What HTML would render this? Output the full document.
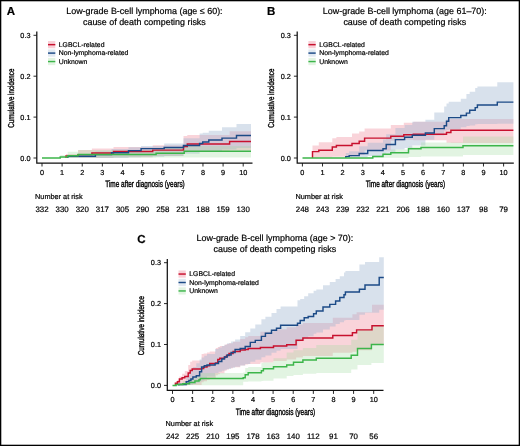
<!DOCTYPE html>
<html><head><meta charset="utf-8"><style>
html,body{margin:0;padding:0;background:#fff;}
body{width:520px;height:446px;overflow:hidden;position:relative;}
svg{position:absolute;left:0;top:0;will-change:transform;}
text{font-family:"Liberation Sans", sans-serif;fill:#000;stroke:#000;stroke-width:0.2px;text-rendering:geometricPrecision;}
</style></head><body>
<svg width="520" height="446" viewBox="0 0 520 446">
<rect x="0" y="0" width="520" height="446" fill="#fff"/>
<g transform="translate(0,0)">
<text x="6.7" y="15.25" font-size="11.5" font-weight="bold">A</text>
<text x="144.4" y="13.9" font-size="8.95" text-anchor="middle">Low-grade B-cell lymphoma (age ≤ 60):</text>
<text x="144.4" y="24.5" font-size="8.92" text-anchor="middle">cause of death competing risks</text>
<path d="M42.00,158.00 L66.00,158.00 L66.00,154.00 L78.10,154.00 L78.10,150.00 L91.90,150.00 L91.90,148.43 L113.50,148.43 L113.50,146.90 L152.70,146.90 L152.70,145.20 L183.50,145.20 L183.50,136.12 L187.30,136.12 L187.30,135.00 L229.60,135.00 L229.60,131.20 L251.00,131.20 L251.00,150.41 L229.60,150.41 L229.60,151.99 L187.30,151.99 L187.30,152.40 L183.50,152.40 L183.50,155.92 L152.70,155.92 L152.70,157.28 L113.50,157.28 L113.50,158.00 L91.90,158.00 L91.90,158.00 L78.10,158.00 L78.10,158.00 L66.00,158.00 L66.00,158.00 L42.00,158.00Z" fill="#e8637a" fill-opacity="0.28"/>
<path d="M42.00,158.00 L67.70,158.00 L67.70,155.00 L95.40,155.00 L95.40,151.44 L111.50,151.44 L111.50,149.00 L128.50,149.00 L128.50,147.27 L141.10,147.27 L141.10,145.99 L164.20,145.99 L164.20,143.44 L183.50,143.44 L183.50,138.14 L199.60,138.14 L199.60,133.61 L202.70,133.61 L202.70,132.66 L208.80,132.66 L208.80,130.77 L222.00,130.77 L222.00,127.30 L236.50,127.30 L236.50,123.90 L251.00,123.90 L251.00,147.98 L236.50,147.98 L236.50,149.56 L222.00,149.56 L222.00,151.02 L208.80,151.02 L208.80,151.70 L202.70,151.70 L202.70,152.04 L199.60,152.04 L199.60,153.83 L183.50,153.83 L183.50,155.98 L164.20,155.98 L164.20,156.86 L141.10,156.86 L141.10,157.34 L128.50,157.34 L128.50,157.98 L111.50,157.98 L111.50,158.00 L95.40,158.00 L95.40,158.00 L67.70,158.00 L67.70,158.00 L42.00,158.00Z" fill="#9db5cf" fill-opacity="0.4"/>
<path d="M42.00,158.00 L60.20,158.00 L60.20,155.00 L67.70,155.00 L67.70,151.70 L78.10,151.70 L78.10,150.00 L156.10,150.00 L156.10,147.99 L184.20,147.99 L184.20,146.00 L251.00,146.00 L251.00,157.50 L184.20,157.50 L184.20,157.60 L156.10,157.60 L156.10,157.87 L78.10,157.87 L78.10,157.91 L67.70,157.91 L67.70,157.94 L60.20,157.94 L60.20,158.00 L42.00,158.00Z" fill="#9fd9a0" fill-opacity="0.3"/>
<path d="M66.00,158.00H66.00V156.00H78.10V154.60H91.90V152.90H113.50V151.40H152.70V150.10H183.50V146.50H187.30V143.90H229.60V141.50H251.00" fill="none" stroke="#c8102e" stroke-width="1.45"/>
<path d="M67.70,158.00H67.70V156.30H95.40V154.60H111.50V152.80H128.50V150.60H141.10V148.60H164.20V147.50H183.50V145.50H199.60V143.50H202.70V141.90H208.80V139.90H222.00V138.10H236.50V135.50H251.00" fill="none" stroke="#1b4a86" stroke-width="1.45"/>
<path d="M42.00,158.00H60.20V156.90H67.70V155.80H78.10V154.40H156.10V153.30H184.20V151.20H251.00" fill="none" stroke="#3cb54a" stroke-width="1.45"/>
<path d="M36.8,31.5V163H252.5" fill="none" stroke="#111" stroke-width="1.25"/>
<path d="M33.5,158.00H36.8" stroke="#111" stroke-width="0.9"/>
<text x="30.5" y="160.50" font-size="7.3" text-anchor="end">0.0</text>
<path d="M33.5,117.10H36.8" stroke="#111" stroke-width="0.9"/>
<text x="30.5" y="119.60" font-size="7.3" text-anchor="end">0.1</text>
<path d="M33.5,76.20H36.8" stroke="#111" stroke-width="0.9"/>
<text x="30.5" y="78.70" font-size="7.3" text-anchor="end">0.2</text>
<path d="M33.5,35.30H36.8" stroke="#111" stroke-width="0.9"/>
<text x="30.5" y="37.80" font-size="7.3" text-anchor="end">0.3</text>
<path d="M42.00,163V166.5" stroke="#111" stroke-width="0.9"/>
<text x="42.00" y="174.7" font-size="7.3" text-anchor="middle">0</text>
<text x="42.00" y="212" font-size="7.9" text-anchor="middle">332</text>
<path d="M62.12,163V166.5" stroke="#111" stroke-width="0.9"/>
<text x="62.12" y="174.7" font-size="7.3" text-anchor="middle">1</text>
<text x="62.12" y="212" font-size="7.9" text-anchor="middle">330</text>
<path d="M82.24,163V166.5" stroke="#111" stroke-width="0.9"/>
<text x="82.24" y="174.7" font-size="7.3" text-anchor="middle">2</text>
<text x="82.24" y="212" font-size="7.9" text-anchor="middle">320</text>
<path d="M102.36,163V166.5" stroke="#111" stroke-width="0.9"/>
<text x="102.36" y="174.7" font-size="7.3" text-anchor="middle">3</text>
<text x="102.36" y="212" font-size="7.9" text-anchor="middle">317</text>
<path d="M122.48,163V166.5" stroke="#111" stroke-width="0.9"/>
<text x="122.48" y="174.7" font-size="7.3" text-anchor="middle">4</text>
<text x="122.48" y="212" font-size="7.9" text-anchor="middle">305</text>
<path d="M142.60,163V166.5" stroke="#111" stroke-width="0.9"/>
<text x="142.60" y="174.7" font-size="7.3" text-anchor="middle">5</text>
<text x="142.60" y="212" font-size="7.9" text-anchor="middle">290</text>
<path d="M162.72,163V166.5" stroke="#111" stroke-width="0.9"/>
<text x="162.72" y="174.7" font-size="7.3" text-anchor="middle">6</text>
<text x="162.72" y="212" font-size="7.9" text-anchor="middle">258</text>
<path d="M182.84,163V166.5" stroke="#111" stroke-width="0.9"/>
<text x="182.84" y="174.7" font-size="7.3" text-anchor="middle">7</text>
<text x="182.84" y="212" font-size="7.9" text-anchor="middle">231</text>
<path d="M202.96,163V166.5" stroke="#111" stroke-width="0.9"/>
<text x="202.96" y="174.7" font-size="7.3" text-anchor="middle">8</text>
<text x="202.96" y="212" font-size="7.9" text-anchor="middle">188</text>
<path d="M223.08,163V166.5" stroke="#111" stroke-width="0.9"/>
<text x="223.08" y="174.7" font-size="7.3" text-anchor="middle">9</text>
<text x="223.08" y="212" font-size="7.9" text-anchor="middle">159</text>
<path d="M243.20,163V166.5" stroke="#111" stroke-width="0.9"/>
<text x="243.20" y="174.7" font-size="7.3" text-anchor="middle">10</text>
<text x="243.20" y="212" font-size="7.9" text-anchor="middle">130</text>
<text transform="translate(145,187.3) scale(0.692,1)" font-size="9.3" text-anchor="middle" style="stroke-width:0.38px">Time after diagnosis (years)</text>
<text transform="translate(13.7,98.2) rotate(-90) scale(0.724,1)" font-size="8.6" text-anchor="middle" style="stroke-width:0.38px">Cumulative incidence</text>
<text x="35.1" y="199.1" font-size="7.3">Number at risk</text>
<rect x="48" y="41.05" width="7.3" height="7.2" fill="#e8637a" fill-opacity="0.3"/>
<path d="M48,44.65H55.3" stroke="#c8102e" stroke-width="1.45"/>
<text x="58.8" y="46.95" font-size="6.85">LGBCL-related</text>
<rect x="48" y="49.50" width="7.3" height="7.2" fill="#9db5cf" fill-opacity="0.3"/>
<path d="M48,53.10H55.3" stroke="#1b4a86" stroke-width="1.45"/>
<text x="58.8" y="55.40" font-size="6.85">Non-lymphoma-related</text>
<rect x="48" y="57.95" width="7.3" height="7.2" fill="#9fd9a0" fill-opacity="0.3"/>
<path d="M48,61.55H55.3" stroke="#3cb54a" stroke-width="1.45"/>
<text x="58.8" y="63.85" font-size="6.85">Unknown</text>
</g>
<g transform="translate(260.4,0)">
<text x="6.7" y="15.25" font-size="11.5" font-weight="bold">B</text>
<text x="144.4" y="13.9" font-size="8.95" text-anchor="middle">Low-grade B-cell lymphoma (age 61–70):</text>
<text x="144.4" y="24.5" font-size="8.92" text-anchor="middle">cause of death competing risks</text>
<path d="M42.10,158.00 L52.10,158.00 L52.10,145.40 L58.40,145.40 L58.40,142.30 L71.90,142.30 L71.90,138.20 L76.00,138.20 L76.00,136.92 L91.60,136.92 L91.60,133.56 L98.80,133.56 L98.80,131.44 L104.20,131.44 L104.20,128.56 L130.40,128.56 L130.40,125.00 L143.40,125.00 L143.40,122.70 L152.90,122.70 L152.90,121.82 L186.10,121.82 L186.10,119.26 L190.50,119.26 L190.50,118.98 L253.00,118.98 L253.00,143.00 L190.50,143.00 L190.50,142.74 L186.10,142.74 L186.10,140.25 L152.90,140.25 L152.90,139.67 L143.40,139.67 L143.40,140.80 L130.40,140.80 L130.40,150.40 L104.20,150.40 L104.20,155.06 L98.80,155.06 L98.80,155.60 L91.60,155.60 L91.60,156.67 L76.00,156.67 L76.00,156.86 L71.90,156.86 L71.90,157.50 L58.40,157.50 L58.40,157.80 L52.10,157.80 L52.10,158.00 L42.10,158.00Z" fill="#e8637a" fill-opacity="0.28"/>
<path d="M42.10,158.00 L85.40,158.00 L85.40,153.00 L88.80,153.00 L88.80,151.28 L98.80,151.28 L98.80,146.21 L107.30,146.21 L107.30,142.70 L122.60,142.70 L122.60,139.60 L125.80,139.60 L125.80,134.20 L135.00,134.20 L135.00,128.10 L144.20,128.10 L144.20,125.00 L151.90,125.00 L151.90,121.68 L165.00,121.68 L165.00,119.80 L173.90,119.80 L173.90,112.44 L183.80,112.44 L183.80,106.50 L186.10,106.50 L186.10,103.52 L188.30,103.52 L188.30,101.83 L200.40,101.83 L200.40,98.80 L206.00,98.80 L206.00,94.12 L209.30,94.12 L209.30,91.73 L214.80,91.73 L214.80,88.07 L217.00,88.07 L217.00,86.60 L236.90,86.60 L236.90,82.20 L253.00,82.20 L253.00,123.83 L236.90,123.83 L236.90,124.00 L217.00,124.00 L217.00,124.35 L214.80,124.35 L214.80,125.41 L209.30,125.41 L209.30,126.05 L206.00,126.05 L206.00,127.14 L200.40,127.14 L200.40,129.48 L188.30,129.48 L188.30,129.90 L186.10,129.90 L186.10,130.86 L183.80,130.86 L183.80,135.57 L173.90,135.57 L173.90,139.81 L165.00,139.81 L165.00,145.62 L151.90,145.62 L151.90,147.98 L144.20,147.98 L144.20,149.59 L135.00,149.59 L135.00,152.64 L125.80,152.64 L125.80,154.20 L122.60,154.20 L122.60,156.06 L107.30,156.06 L107.30,157.01 L98.80,157.01 L98.80,157.19 L88.80,157.19 L88.80,157.25 L85.40,157.25 L85.40,158.00 L42.10,158.00Z" fill="#9db5cf" fill-opacity="0.4"/>
<path d="M42.10,158.00 L112.40,158.00 L112.40,155.50 L122.60,155.50 L122.60,152.70 L130.40,152.70 L130.40,149.60 L148.10,149.60 L148.10,146.50 L160.60,146.50 L160.60,142.55 L202.60,142.55 L202.60,136.40 L253.00,136.40 L253.00,155.00 L202.60,155.00 L202.60,156.47 L160.60,156.47 L160.60,157.00 L148.10,157.00 L148.10,157.77 L130.40,157.77 L130.40,157.82 L122.60,157.82 L122.60,157.84 L112.40,157.84 L112.40,158.00 L42.10,158.00Z" fill="#9fd9a0" fill-opacity="0.3"/>
<path d="M52.10,158.00H52.10V151.60H58.40V150.20H71.90V146.90H76.00V145.40H91.60V143.50H98.80V141.20H104.20V138.10H130.40V136.20H143.40V134.70H152.90V134.20H186.10V132.40H190.50V130.20H253.00" fill="none" stroke="#c8102e" stroke-width="1.45"/>
<path d="M85.40,158.00H85.40V156.60H88.80V155.60H98.80V153.50H107.30V150.40H122.60V148.80H125.80V144.50H135.00V139.60H144.20V137.30H151.90V135.30H165.00V133.00H173.90V128.60H183.80V125.80H186.10V121.30H188.30V117.60H200.40V115.40H206.00V113.10H209.30V110.30H214.80V107.60H217.00V105.00H236.90V102.10H253.00" fill="none" stroke="#1b4a86" stroke-width="1.45"/>
<path d="M42.10,158.00H112.40V156.40H122.60V154.20H130.40V152.70H148.10V148.80H160.60V147.40H202.60V145.70H253.00" fill="none" stroke="#3cb54a" stroke-width="1.45"/>
<path d="M36.8,31.5V163H253.4" fill="none" stroke="#111" stroke-width="1.25"/>
<path d="M33.5,158.00H36.8" stroke="#111" stroke-width="0.9"/>
<text x="30.5" y="160.50" font-size="7.3" text-anchor="end">0.0</text>
<path d="M33.5,117.10H36.8" stroke="#111" stroke-width="0.9"/>
<text x="30.5" y="119.60" font-size="7.3" text-anchor="end">0.1</text>
<path d="M33.5,76.20H36.8" stroke="#111" stroke-width="0.9"/>
<text x="30.5" y="78.70" font-size="7.3" text-anchor="end">0.2</text>
<path d="M33.5,35.30H36.8" stroke="#111" stroke-width="0.9"/>
<text x="30.5" y="37.80" font-size="7.3" text-anchor="end">0.3</text>
<path d="M42.00,163V166.5" stroke="#111" stroke-width="0.9"/>
<text x="42.00" y="174.7" font-size="7.3" text-anchor="middle">0</text>
<text x="42.00" y="212" font-size="7.9" text-anchor="middle">248</text>
<path d="M62.12,163V166.5" stroke="#111" stroke-width="0.9"/>
<text x="62.12" y="174.7" font-size="7.3" text-anchor="middle">1</text>
<text x="62.12" y="212" font-size="7.9" text-anchor="middle">243</text>
<path d="M82.24,163V166.5" stroke="#111" stroke-width="0.9"/>
<text x="82.24" y="174.7" font-size="7.3" text-anchor="middle">2</text>
<text x="82.24" y="212" font-size="7.9" text-anchor="middle">239</text>
<path d="M102.36,163V166.5" stroke="#111" stroke-width="0.9"/>
<text x="102.36" y="174.7" font-size="7.3" text-anchor="middle">3</text>
<text x="102.36" y="212" font-size="7.9" text-anchor="middle">232</text>
<path d="M122.48,163V166.5" stroke="#111" stroke-width="0.9"/>
<text x="122.48" y="174.7" font-size="7.3" text-anchor="middle">4</text>
<text x="122.48" y="212" font-size="7.9" text-anchor="middle">221</text>
<path d="M142.60,163V166.5" stroke="#111" stroke-width="0.9"/>
<text x="142.60" y="174.7" font-size="7.3" text-anchor="middle">5</text>
<text x="142.60" y="212" font-size="7.9" text-anchor="middle">206</text>
<path d="M162.72,163V166.5" stroke="#111" stroke-width="0.9"/>
<text x="162.72" y="174.7" font-size="7.3" text-anchor="middle">6</text>
<text x="162.72" y="212" font-size="7.9" text-anchor="middle">188</text>
<path d="M182.84,163V166.5" stroke="#111" stroke-width="0.9"/>
<text x="182.84" y="174.7" font-size="7.3" text-anchor="middle">7</text>
<text x="182.84" y="212" font-size="7.9" text-anchor="middle">160</text>
<path d="M202.96,163V166.5" stroke="#111" stroke-width="0.9"/>
<text x="202.96" y="174.7" font-size="7.3" text-anchor="middle">8</text>
<text x="202.96" y="212" font-size="7.9" text-anchor="middle">137</text>
<path d="M223.08,163V166.5" stroke="#111" stroke-width="0.9"/>
<text x="223.08" y="174.7" font-size="7.3" text-anchor="middle">9</text>
<text x="223.08" y="212" font-size="7.9" text-anchor="middle">98</text>
<path d="M243.20,163V166.5" stroke="#111" stroke-width="0.9"/>
<text x="243.20" y="174.7" font-size="7.3" text-anchor="middle">10</text>
<text x="243.20" y="212" font-size="7.9" text-anchor="middle">79</text>
<text transform="translate(145,187.3) scale(0.692,1)" font-size="9.3" text-anchor="middle" style="stroke-width:0.38px">Time after diagnosis (years)</text>
<text transform="translate(13.7,98.2) rotate(-90) scale(0.724,1)" font-size="8.6" text-anchor="middle" style="stroke-width:0.38px">Cumulative incidence</text>
<text x="35.1" y="199.1" font-size="7.3">Number at risk</text>
<rect x="48" y="41.05" width="7.3" height="7.2" fill="#e8637a" fill-opacity="0.3"/>
<path d="M48,44.65H55.3" stroke="#c8102e" stroke-width="1.45"/>
<text x="58.8" y="46.95" font-size="6.85">LGBCL-related</text>
<rect x="48" y="49.50" width="7.3" height="7.2" fill="#9db5cf" fill-opacity="0.3"/>
<path d="M48,53.10H55.3" stroke="#1b4a86" stroke-width="1.45"/>
<text x="58.8" y="55.40" font-size="6.85">Non-lymphoma-related</text>
<rect x="48" y="57.95" width="7.3" height="7.2" fill="#9fd9a0" fill-opacity="0.3"/>
<path d="M48,61.55H55.3" stroke="#3cb54a" stroke-width="1.45"/>
<text x="58.8" y="63.85" font-size="6.85">Unknown</text>
</g>
<g transform="translate(130.5,227.4)">
<text x="6.7" y="15.25" font-size="11.5" font-weight="bold">C</text>
<text x="144.4" y="13.9" font-size="8.95" text-anchor="middle">Low-grade B-cell lymphoma (age &gt; 70):</text>
<text x="144.4" y="24.5" font-size="8.92" text-anchor="middle">cause of death competing risks</text>
<path d="M42.00,158.00 L44.90,158.00 L44.90,155.66 L46.90,155.66 L46.90,152.50 L48.90,152.50 L48.90,149.10 L51.60,149.10 L51.60,146.40 L54.30,146.40 L54.30,143.70 L57.70,143.70 L57.70,137.53 L59.70,137.53 L59.70,134.46 L61.70,134.46 L61.70,133.20 L71.10,133.20 L71.10,126.63 L73.20,126.63 L73.20,126.06 L76.50,126.06 L76.50,125.15 L79.20,125.15 L79.20,124.19 L85.30,124.19 L85.30,120.66 L87.30,120.66 L87.30,119.50 L89.30,119.50 L89.30,118.57 L94.00,118.57 L94.00,117.24 L96.00,117.24 L96.00,116.67 L98.50,116.67 L98.50,115.91 L102.60,115.91 L102.60,114.36 L109.70,114.36 L109.70,111.66 L114.70,111.66 L114.70,109.79 L117.70,109.79 L117.70,108.70 L129.90,108.70 L129.90,104.27 L143.00,104.27 L143.00,101.75 L156.20,101.75 L156.20,99.89 L165.60,99.89 L165.60,97.08 L172.40,97.08 L172.40,95.49 L202.30,95.49 L202.30,90.42 L221.90,90.42 L221.90,86.90 L226.10,86.90 L226.10,84.85 L241.50,84.85 L241.50,77.30 L253.30,77.30 L253.30,116.50 L241.50,116.50 L241.50,122.73 L226.10,122.73 L226.10,124.43 L221.90,124.43 L221.90,125.40 L202.30,125.40 L202.30,128.64 L172.40,128.64 L172.40,130.20 L165.60,130.20 L165.60,132.00 L156.20,132.00 L156.20,133.60 L143.00,133.60 L143.00,135.19 L129.90,135.19 L129.90,136.67 L117.70,136.67 L117.70,137.03 L114.70,137.03 L114.70,138.12 L109.70,138.12 L109.70,139.93 L102.60,139.93 L102.60,140.97 L98.50,140.97 L98.50,142.18 L96.00,142.18 L96.00,143.25 L94.00,143.25 L94.00,145.78 L89.30,145.78 L89.30,146.86 L87.30,146.86 L87.30,147.94 L85.30,147.94 L85.30,151.22 L79.20,151.22 L79.20,152.46 L76.50,152.46 L76.50,153.87 L73.20,153.87 L73.20,154.77 L71.10,154.77 L71.10,157.65 L61.70,157.65 L61.70,157.69 L59.70,157.69 L59.70,157.72 L57.70,157.72 L57.70,157.78 L54.30,157.78 L54.30,157.83 L51.60,157.83 L51.60,157.88 L48.90,157.88 L48.90,157.91 L46.90,157.91 L46.90,157.95 L44.90,157.95 L44.90,158.00 L42.00,158.00Z" fill="#e8637a" fill-opacity="0.28"/>
<path d="M42.00,158.00 L48.30,158.00 L48.30,155.80 L55.70,155.80 L55.70,148.33 L58.40,148.33 L58.40,144.73 L60.40,144.73 L60.40,142.07 L62.40,142.07 L62.40,139.60 L65.80,139.60 L65.80,135.82 L69.10,135.82 L69.10,132.16 L71.10,132.16 L71.10,130.20 L73.80,130.20 L73.80,128.40 L76.50,128.40 L76.50,126.60 L84.60,126.60 L84.60,121.62 L88.00,121.62 L88.00,120.03 L91.30,120.03 L91.30,118.49 L94.00,118.49 L94.00,117.23 L96.70,117.23 L96.70,115.91 L100.60,115.91 L100.60,113.98 L104.60,113.98 L104.60,111.99 L109.70,111.99 L109.70,108.67 L114.70,108.67 L114.70,104.90 L119.80,104.90 L119.80,101.12 L124.80,101.12 L124.80,97.15 L130.90,97.15 L130.90,91.80 L134.90,91.80 L134.90,89.38 L141.00,89.38 L141.00,85.70 L146.00,85.70 L146.00,81.53 L150.10,81.53 L150.10,79.12 L167.00,79.12 L167.00,72.75 L169.70,72.75 L169.70,71.60 L173.70,71.60 L173.70,68.75 L177.70,68.75 L177.70,65.90 L183.10,65.90 L183.10,63.29 L185.80,63.29 L185.80,62.20 L192.50,62.20 L192.50,57.73 L199.30,57.73 L199.30,54.50 L205.10,54.50 L205.10,51.58 L209.30,51.58 L209.30,48.75 L213.50,48.75 L213.50,45.00 L214.90,45.00 L214.90,43.60 L228.90,43.60 L228.90,37.16 L234.50,37.16 L234.50,34.50 L248.70,34.50 L248.70,29.96 L253.30,29.96 L253.30,82.42 L248.70,82.42 L248.70,85.35 L234.50,85.35 L234.50,87.31 L228.90,87.31 L228.90,92.57 L214.90,92.57 L214.90,93.14 L213.50,93.14 L213.50,94.84 L209.30,94.84 L209.30,96.55 L205.10,96.55 L205.10,99.04 L199.30,99.04 L199.30,102.10 L192.50,102.10 L192.50,105.13 L185.80,105.13 L185.80,106.41 L183.10,106.41 L183.10,108.97 L177.70,108.97 L177.70,110.87 L173.70,110.87 L173.70,112.76 L169.70,112.76 L169.70,114.04 L167.00,114.04 L167.00,121.59 L150.10,121.59 L150.10,123.33 L146.00,123.33 L146.00,125.45 L141.00,125.45 L141.00,128.04 L134.90,128.04 L134.90,129.73 L130.90,129.73 L130.90,132.32 L124.80,132.32 L124.80,134.44 L119.80,134.44 L119.80,136.61 L114.70,136.61 L114.70,138.12 L109.70,138.12 L109.70,139.42 L104.60,139.42 L104.60,140.44 L100.60,140.44 L100.60,141.53 L96.70,141.53 L96.70,142.43 L94.00,142.43 L94.00,143.33 L91.30,143.33 L91.30,144.43 L88.00,144.43 L88.00,145.57 L84.60,145.57 L84.60,149.10 L76.50,149.10 L76.50,151.12 L73.80,151.12 L73.80,153.15 L71.10,153.15 L71.10,154.11 L69.10,154.11 L69.10,155.31 L65.80,155.31 L65.80,156.55 L62.40,156.55 L62.40,157.27 L60.40,157.27 L60.40,157.63 L58.40,157.63 L58.40,157.69 L55.70,157.69 L55.70,157.86 L48.30,157.86 L48.30,158.00 L42.00,158.00Z" fill="#9db5cf" fill-opacity="0.4"/>
<path d="M42.00,158.00 L45.60,158.00 L45.60,155.57 L52.30,155.57 L52.30,153.66 L59.00,153.66 L59.00,150.60 L64.40,150.60 L64.40,148.03 L68.50,148.03 L68.50,146.08 L69.80,146.08 L69.80,145.60 L112.70,145.60 L112.70,145.10 L114.70,145.10 L114.70,140.54 L117.70,140.54 L117.70,139.64 L130.90,139.64 L130.90,135.68 L132.90,135.68 L132.90,135.08 L143.00,135.08 L143.00,130.86 L156.20,130.86 L156.20,125.05 L163.00,125.05 L163.00,122.80 L172.40,122.80 L172.40,120.64 L185.80,120.64 L185.80,117.56 L220.70,117.56 L220.70,112.40 L227.00,112.40 L227.00,102.25 L240.90,102.25 L240.90,98.46 L253.30,98.46 L253.30,135.50 L240.90,135.50 L240.90,137.70 L227.00,137.70 L227.00,142.20 L220.70,142.20 L220.70,145.54 L185.80,145.54 L185.80,146.41 L172.40,146.41 L172.40,147.57 L163.00,147.57 L163.00,148.59 L156.20,148.59 L156.20,151.05 L143.00,151.05 L143.00,153.31 L132.90,153.31 L132.90,153.48 L130.90,153.48 L130.90,154.14 L117.70,154.14 L117.70,154.29 L114.70,154.29 L114.70,154.39 L112.70,154.39 L112.70,157.79 L69.80,157.79 L69.80,157.80 L68.50,157.80 L68.50,157.83 L64.40,157.83 L64.40,157.87 L59.00,157.87 L59.00,157.92 L52.30,157.92 L52.30,157.97 L45.60,157.97 L45.60,158.00 L42.00,158.00Z" fill="#9fd9a0" fill-opacity="0.3"/>
<path d="M44.90,158.00H44.90V155.80H46.90V154.40H48.90V151.70H51.60V150.40H54.30V149.00H57.70V145.70H59.70V143.00H61.70V141.60H71.10V141.00H73.20V139.60H76.50V138.30H79.20V136.20H85.30V135.60H87.30V132.20H89.30V130.90H94.00V129.50H96.00V128.20H98.50V126.10H102.60V124.10H109.70V122.70H114.70V122.10H117.70V121.10H129.90V120.10H143.00V118.70H156.20V117.30H165.60V112.80H172.40V110.60H202.30V108.10H221.90V105.30H226.10V102.50H241.50V98.30H253.30" fill="none" stroke="#c8102e" stroke-width="1.45"/>
<path d="M48.30,158.00H48.30V157.10H55.70V154.40H58.40V153.10H60.40V151.70H62.40V149.70H65.80V148.40H69.10V144.30H71.10V139.60H73.80V138.30H76.50V137.60H84.60V136.20H88.00V134.20H91.30V131.50H94.00V129.50H96.70V127.50H100.60V125.10H104.60V122.10H109.70V121.10H114.70V119.10H119.80V115.00H124.80V113.00H130.90V109.00H134.90V105.90H141.00V102.90H146.00V100.90H150.10V97.90H167.00V95.80H169.70V93.10H173.70V90.40H177.70V89.10H183.10V86.40H185.80V83.70H192.50V79.70H199.30V77.00H205.10V73.60H209.30V70.20H213.50V67.40H214.90V64.60H228.90V61.80H234.50V57.60H248.70V50.10H253.30" fill="none" stroke="#1b4a86" stroke-width="1.45"/>
<path d="M42.00,158.00H45.60V157.10H52.30V156.40H59.00V155.10H64.40V153.70H68.50V152.40H69.80V151.20H112.70V150.40H114.70V147.30H117.70V145.30H130.90V143.30H132.90V141.30H143.00V139.30H156.20V137.50H163.00V134.80H172.40V132.70H185.80V130.80H220.70V127.80H227.00V121.10H240.90V117.10H253.30" fill="none" stroke="#3cb54a" stroke-width="1.45"/>
<path d="M36.8,31.5V163H253" fill="none" stroke="#111" stroke-width="1.25"/>
<path d="M33.5,158.00H36.8" stroke="#111" stroke-width="0.9"/>
<text x="30.5" y="160.50" font-size="7.3" text-anchor="end">0.0</text>
<path d="M33.5,117.10H36.8" stroke="#111" stroke-width="0.9"/>
<text x="30.5" y="119.60" font-size="7.3" text-anchor="end">0.1</text>
<path d="M33.5,76.20H36.8" stroke="#111" stroke-width="0.9"/>
<text x="30.5" y="78.70" font-size="7.3" text-anchor="end">0.2</text>
<path d="M33.5,35.30H36.8" stroke="#111" stroke-width="0.9"/>
<text x="30.5" y="37.80" font-size="7.3" text-anchor="end">0.3</text>
<path d="M42.00,163V166.5" stroke="#111" stroke-width="0.9"/>
<text x="42.00" y="174.7" font-size="7.3" text-anchor="middle">0</text>
<text x="42.00" y="212" font-size="7.9" text-anchor="middle">242</text>
<path d="M62.12,163V166.5" stroke="#111" stroke-width="0.9"/>
<text x="62.12" y="174.7" font-size="7.3" text-anchor="middle">1</text>
<text x="62.12" y="212" font-size="7.9" text-anchor="middle">225</text>
<path d="M82.24,163V166.5" stroke="#111" stroke-width="0.9"/>
<text x="82.24" y="174.7" font-size="7.3" text-anchor="middle">2</text>
<text x="82.24" y="212" font-size="7.9" text-anchor="middle">210</text>
<path d="M102.36,163V166.5" stroke="#111" stroke-width="0.9"/>
<text x="102.36" y="174.7" font-size="7.3" text-anchor="middle">3</text>
<text x="102.36" y="212" font-size="7.9" text-anchor="middle">195</text>
<path d="M122.48,163V166.5" stroke="#111" stroke-width="0.9"/>
<text x="122.48" y="174.7" font-size="7.3" text-anchor="middle">4</text>
<text x="122.48" y="212" font-size="7.9" text-anchor="middle">178</text>
<path d="M142.60,163V166.5" stroke="#111" stroke-width="0.9"/>
<text x="142.60" y="174.7" font-size="7.3" text-anchor="middle">5</text>
<text x="142.60" y="212" font-size="7.9" text-anchor="middle">163</text>
<path d="M162.72,163V166.5" stroke="#111" stroke-width="0.9"/>
<text x="162.72" y="174.7" font-size="7.3" text-anchor="middle">6</text>
<text x="162.72" y="212" font-size="7.9" text-anchor="middle">140</text>
<path d="M182.84,163V166.5" stroke="#111" stroke-width="0.9"/>
<text x="182.84" y="174.7" font-size="7.3" text-anchor="middle">7</text>
<text x="182.84" y="212" font-size="7.9" text-anchor="middle">112</text>
<path d="M202.96,163V166.5" stroke="#111" stroke-width="0.9"/>
<text x="202.96" y="174.7" font-size="7.3" text-anchor="middle">8</text>
<text x="202.96" y="212" font-size="7.9" text-anchor="middle">91</text>
<path d="M223.08,163V166.5" stroke="#111" stroke-width="0.9"/>
<text x="223.08" y="174.7" font-size="7.3" text-anchor="middle">9</text>
<text x="223.08" y="212" font-size="7.9" text-anchor="middle">70</text>
<path d="M243.20,163V166.5" stroke="#111" stroke-width="0.9"/>
<text x="243.20" y="174.7" font-size="7.3" text-anchor="middle">10</text>
<text x="243.20" y="212" font-size="7.9" text-anchor="middle">56</text>
<text transform="translate(145,187.3) scale(0.692,1)" font-size="9.3" text-anchor="middle" style="stroke-width:0.38px">Time after diagnosis (years)</text>
<text transform="translate(13.7,98.2) rotate(-90) scale(0.724,1)" font-size="8.6" text-anchor="middle" style="stroke-width:0.38px">Cumulative incidence</text>
<text x="35.1" y="199.1" font-size="7.3">Number at risk</text>
<rect x="48" y="43.05" width="7.3" height="7.2" fill="#e8637a" fill-opacity="0.3"/>
<path d="M48,46.65H55.3" stroke="#c8102e" stroke-width="1.45"/>
<text x="58.8" y="48.95" font-size="6.85">LGBCL-related</text>
<rect x="48" y="51.50" width="7.3" height="7.2" fill="#9db5cf" fill-opacity="0.3"/>
<path d="M48,55.10H55.3" stroke="#1b4a86" stroke-width="1.45"/>
<text x="58.8" y="57.40" font-size="6.85">Non-lymphoma-related</text>
<rect x="48" y="59.95" width="7.3" height="7.2" fill="#9fd9a0" fill-opacity="0.3"/>
<path d="M48,63.55H55.3" stroke="#3cb54a" stroke-width="1.45"/>
<text x="58.8" y="65.85" font-size="6.85">Unknown</text>
</g>
<rect x="0" y="0" width="520" height="446" fill="none" stroke="#000" stroke-width="2.6"/>
</svg></body></html>
